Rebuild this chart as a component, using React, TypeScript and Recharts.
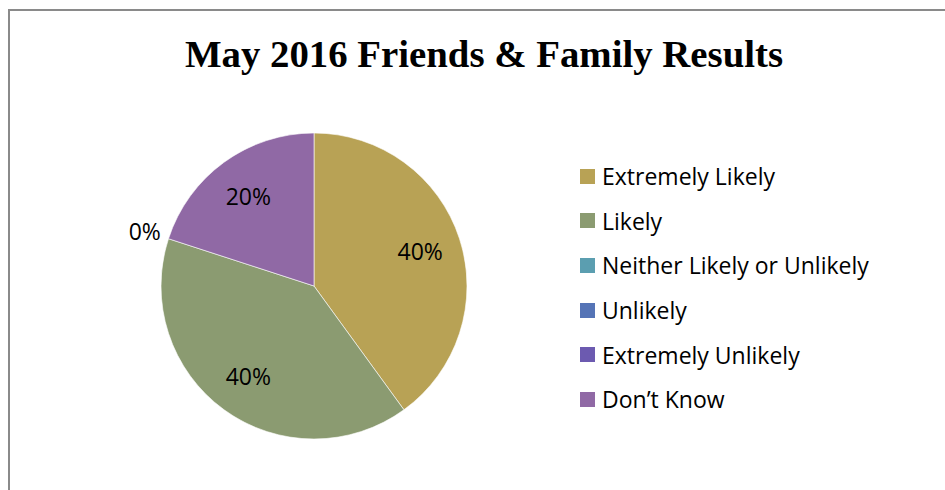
import { PieChart, Pie, Cell, Legend } from 'recharts';

// Friends & Family Test — May 2016
const categories = [
  'Extremely Likely',
  'Likely',
  'Neither Likely or Unlikely',
  'Unlikely',
  'Extremely Unlikely',
  'Don\u2019t Know',
];
const responses = [40, 40, 0, 0, 0, 20];
const colors = ['#B8A255', '#8B9B71', '#5B9EB0', '#5574B6', '#6C5AB0', '#9069A5'];

const data = categories.map((name, i) => ({ name, value: responses[i] }));

const FONT = '"Open Sans", "Noto Sans", sans-serif';
const RAD = Math.PI / 180;

function renderLabel({ cx, cy, midAngle, outerRadius, percent, value, index }: any) {
  // empty slices sit on top of each other, so only the first one gets a label
  if (value === 0 && index > 0 && responses[index - 1] === 0) return null;
  const r = value === 0 ? outerRadius + 25 : outerRadius * 0.73;
  const x = cx + r * Math.cos(-midAngle * RAD);
  const y = cy + r * Math.sin(-midAngle * RAD);
  return (
    <text
      x={x}
      y={y}
      fill="#000"
      textAnchor="middle"
      dominantBaseline="central"
      style={{ fontFamily: FONT, fontSize: 23 }}
    >
      {`${Math.round(percent * 100)}%`}
    </text>
  );
}

function LegendList({ payload }: any) {
  const items = [...(payload || [])].sort(
    (a: any, b: any) => categories.indexOf(a.value) - categories.indexOf(b.value),
  );
  return (
    <div>
      {items.map((entry: any, i: number) => (
        <div key={i} style={{ display: 'flex', alignItems: 'center', height: 44.6 }}>
          <div style={{ width: 15, height: 15, background: entry.color, marginRight: 7, flexShrink: 0 }} />
          <span style={{ fontFamily: FONT, fontSize: 23, color: '#000', whiteSpace: 'nowrap' }}>
            {entry.value}
          </span>
        </div>
      ))}
    </div>
  );
}

export default function App() {
  return (
    <div style={{ position: 'absolute', left: 0, top: 0, width: 945, height: 490, overflow: 'hidden', background: '#fff' }}>
      <div
        style={{
          position: 'absolute', left: 8, top: 9, width: 1000, height: 600,
          border: '2px solid #8a8a8a', boxSizing: 'border-box',
        }}
      />
      <div
        style={{
          position: 'absolute', left: 0, top: 31, width: 968, textAlign: 'center', lineHeight: 'normal',
          fontFamily: '"Liberation Serif", serif', fontWeight: 'bold', fontSize: 38.8, color: '#000',
          whiteSpace: 'nowrap',
        }}
      >
        May 2016 Friends &amp; Family Results
      </div>
      <div style={{ position: 'absolute', left: 0, top: 0 }}>
        <PieChart width={945} height={490} margin={{ top: 0, right: 0, bottom: 0, left: 0 }}>
          <Pie
            data={data}
            dataKey="value"
            nameKey="name"
            cx={314}
            cy={286}
            outerRadius={153}
            startAngle={90}
            endAngle={-270}
            stroke="#fff"
            strokeWidth={0.6}
            label={renderLabel}
            labelLine={false}
            isAnimationActive={false}
          >
            {data.map((d, i) => (
              <Cell key={d.name} fill={colors[i]} />
            ))}
          </Pie>
          <Legend
            layout="vertical"
            content={<LegendList />}
            wrapperStyle={{ position: 'absolute', left: 580, top: 154, width: 360, bottom: 'auto', right: 'auto' }}
          />
        </PieChart>
      </div>
    </div>
  );
}
